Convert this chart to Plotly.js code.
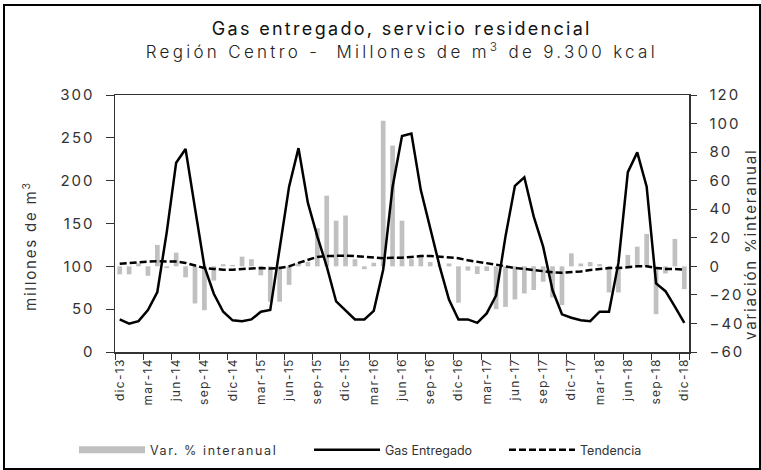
<!DOCTYPE html>
<html>
<head>
<meta charset="utf-8">
<script src="https://cdn.plot.ly/plotly-3.0.1.min.js"></script>
<style>
  html, body { margin: 0; padding: 0; background: #fff; }
  #wrap { position: relative; width: 761px; height: 470px; overflow: hidden; }
  #chart { width: 761px; height: 470px; }
  #frame { position: absolute; left: 3px; top: 4px; width: 754px; height: 462px; border: 2px solid #000; pointer-events: none; }
  .gtitle { letter-spacing: 2.3px; }
  .gtitle tspan.line + tspan.line { letter-spacing: 3.3px; }
  .xtick text { letter-spacing: 1.3px; }
  .ytick text, .y2tick text { letter-spacing: 2px; }
  .legendtext { letter-spacing: 1.6px; }
  .annotation-text { letter-spacing: 1.8px; }
</style>
</head>
<body>
<div id="wrap">
  <div id="chart"></div>
  <div id="frame"></div>
</div>
<script>
// Month categories dic-13 .. dic-18
const monthNames = ["ene","feb","mar","abr","may","jun","jul","ago","sep","oct","nov","dic"];
const months = ["dic-13"];
for (let y = 14; y <= 18; y++) {
  for (let m = 0; m < 12; m++) months.push(monthNames[m] + "-" + y);
}

// Gas entregado (millones de m3)
const gasEntregado = [
  38, 33, 36, 49, 70, 140, 221, 237, 168, 100, 68, 47,
  37, 36, 38, 47, 49, 121, 193, 238, 174, 135, 100, 59,
  49, 38, 38, 48, 96, 193, 252, 255, 189, 143, 100, 61,
  38, 38, 34, 45, 66, 135, 194, 204, 158, 123, 72, 44,
  40, 37, 36, 47, 47, 104, 210, 233, 193, 80, 71, 53,
  34
];

// Tendencia (millones de m3)
const tendencia = [
  103, 104, 105, 105.5, 106, 106, 105.5, 104, 101, 98, 97, 96,
  96, 97, 97.5, 98, 97.5, 98, 100, 104, 107.5, 111, 112, 112.5,
  112.5, 112, 111, 110, 109.5, 110, 110, 111, 112, 112, 111, 110,
  109.5, 107, 105.5, 104, 102, 100, 98, 97, 95.5, 94, 93, 92.6,
  93, 94, 95.7, 97, 98, 98, 99, 100, 100, 98, 97, 97,
  96
];

// Variación % interanual
const varInteranual = [
  -5.6, -5.6, 2, -6.6, 15, -1.2, 9.6, -7.7, -26, -30.7, -10, 1.5,
  1, 6.8, 5, -6.3, -24.8, -24.8, -13, 2, 3, 26.7, 49.5, 32,
  35.6, 5, -2, 2.5, 102, 84.6, 32, 5, 8, 3, 0.5, 2,
  -25.5, -3, -5.4, -3.3, -30, -28.4, -23.2, -19, -16.6, -10.8, -21.8, -27.2,
  9.1, 2, 3, 1.6, -18.3, -18.3, 8, 13.8, 22.7, -33.5, -5, 19.2,
  -16
];

const tickLabels = months.filter((m, i) => i % 3 === 0);

const fontFam = "Inter, 'Open Sans', sans-serif";
const txt = "#333333";

const traces = [
  {
    type: "bar", x: months, y: varInteranual, yaxis: "y",
    marker: { color: "#c0c0c0", line: { width: 0 } },
    width: 0.5, name: "Var. % interanual", showlegend: false, hoverinfo: "x+y"
  },
  {
    type: "scatter", mode: "lines", x: [null], y: [null], yaxis: "y",
    line: { color: "#c0c0c0", width: 7 }, name: "Var. % interanual", legend: "legend"
  },
  {
    type: "scatter", mode: "lines", x: months, y: gasEntregado, yaxis: "y2",
    line: { color: "#000", width: 2.5 }, name: "Gas Entregado", legend: "legend2"
  },
  {
    type: "scatter", mode: "lines", x: months, y: tendencia, yaxis: "y2",
    line: { color: "#000", width: 2.5, dash: "7px,3px" }, name: "Tendencia", legend: "legend3"
  }
];

const legBase = {
  orientation: "h", xref: "container", yref: "container", yanchor: "middle",
  y: 1 - 450 / 470, font: { family: fontFam, size: 12.5, color: txt },
  itemwidth: 66, bgcolor: "rgba(0,0,0,0)"
};

const layout = {
  width: 761, height: 470,
  paper_bgcolor: "#fff", plot_bgcolor: "#fff",
  margin: { l: 115, r: 72, t: 95, b: 118 },
  font: { family: fontFam, color: txt },
  title: {
    text: "Gas entregado, servicio residencial<br><span style='font-size:17px;font-weight:300;color:#222'>Región Centro -  Millones de m<sup>3</sup> de 9.300 kcal</span>",
    font: { family: fontFam, size: 18, color: "#111" },
    x: 0.528, xanchor: "center", xref: "container",
    y: 1 - 35 / 470, yanchor: "top", yref: "container"
  },
  showlegend: true,
  legend: Object.assign({}, legBase, { x: 74 / 761 }),
  legend2: Object.assign({}, legBase, { x: 309 / 761 }),
  legend3: Object.assign({}, legBase, { x: 504 / 761 }),
  xaxis: {
    type: "category", range: [-0.5, 60.5],
    tickmode: "array", tickvals: tickLabels, ticktext: tickLabels,
    tickson: "boundaries", ticks: "outside", ticklen: 6, tickcolor: "#333",
    tickangle: -90, tickfont: { family: fontFam, size: 12, color: txt },
    showline: true, linecolor: "#333", linewidth: 1.5, mirror: true,
    showgrid: false, zeroline: false
  },
  yaxis: {
    range: [-60, 120], dtick: 20, tick0: 0, side: "right",
    ticks: "outside", ticklen: 6, tickcolor: "#333",
    tickfont: { family: fontFam, size: 15, color: txt }, ticklabelstandoff: 10,
    showline: true, linecolor: "#333", linewidth: 1.5,
    showgrid: false, zeroline: false
  },
  yaxis2: {
    range: [0, 300], dtick: 50, tick0: 0, side: "left", overlaying: "y",
    ticks: "outside", ticklen: 8, tickcolor: "#333",
    tickfont: { family: fontFam, size: 15, color: txt }, ticklabelstandoff: 8,
    showline: true, linecolor: "#333", linewidth: 1.5,
    showgrid: false, zeroline: false
  },
  annotations: [
    {
      text: "millones de m<sup>3</sup>", xref: "paper", yref: "paper",
      x: (30 - 115) / 574, y: (352 - 246) / 257, textangle: -90, showarrow: false,
      font: { family: fontFam, size: 15, color: txt }, xanchor: "center", yanchor: "middle"
    },
    {
      text: "variación %interanual", xref: "paper", yref: "paper",
      x: (751 - 115) / 574, y: (352 - 245) / 257, textangle: -90, showarrow: false,
      font: { family: fontFam, size: 15, color: txt }, xanchor: "center", yanchor: "middle"
    }
  ]
};

Plotly.newPlot("chart", traces, layout, { displayModeBar: false, staticPlot: true });
</script>
</body>
</html>
